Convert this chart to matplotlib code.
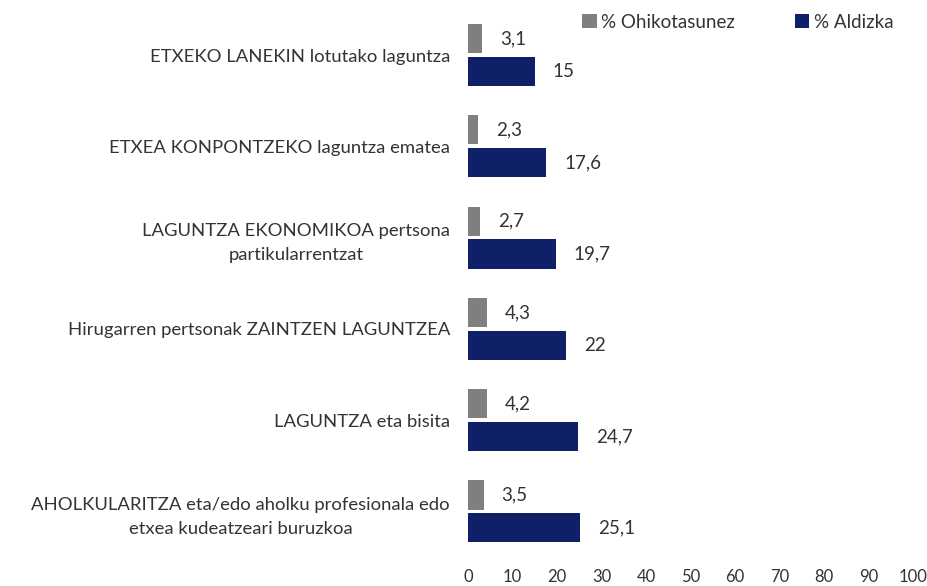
import matplotlib
matplotlib.use("Agg")
import matplotlib.pyplot as plt
import numpy as np

categories = [
    "ETXEKO LANEKIN lotutako laguntza",
    "ETXEA KONPONTZEKO laguntza ematea",
    "LAGUNTZA EKONOMIKOA pertsona\npartikularrentzat",
    "Hirugarren pertsonak ZAINTZEN LAGUNTZEA",
    "LAGUNTZA eta bisita",
    "AHOLKULARITZA eta/edo aholku profesionala edo\netxea kudeatzeari buruzkoa",
]
ohikotasunez = [3.1, 2.3, 2.7, 4.3, 4.2, 3.5]
aldizka = [15, 17.6, 19.7, 22, 24.7, 25.1]
value_labels_o = ["3,1", "2,3", "2,7", "4,3", "4,2", "3,5"]
value_labels_a = ["15", "17,6", "19,7", "22", "24,7", "25,1"]
xticks = list(range(0, 101, 10))

plt.rcParams['font.family'] = ['Lato', 'DejaVu Sans']

fig = plt.figure(figsize=(9.28, 5.86), dpi=100)
ax = fig.add_axes([468/928, 1 - 557/586, (913-468)/928, (557-9.4)/586])

gray = "#7f7f7f"
navy = "#0f1f68"
y = np.arange(len(categories))
h = 0.32
off = 0.18
ax.barh(y - off, ohikotasunez, height=h, color=gray, label="% Ohikotasunez")
ax.barh(y + off, aldizka, height=h, color=navy, label="% Aldizka")

for yi, v, s in zip(y, ohikotasunez, value_labels_o):
    ax.annotate(s, (v, yi - off), xytext=(13, 0), textcoords="offset points",
                va="center", ha="left", fontsize=13.5, color="#333333")
for yi, v, s in zip(y, aldizka, value_labels_a):
    ax.annotate(s, (v, yi + off), xytext=(13, 0), textcoords="offset points",
                va="center", ha="left", fontsize=13.5, color="#333333")

ax.set_xlim(0, 100)
ax.set_ylim(len(categories) - 0.5, -0.5)
ax.set_xticks(xticks)
ax.set_xticklabels([str(t) for t in xticks], fontsize=12, color="#333333")
ax.set_yticks(y)
ax.set_yticklabels(categories, fontsize=13.3, color="#333333")
for t in ax.get_yticklabels():
    t.set_multialignment("center")
    t.set_linespacing(1.6)
ax.tick_params(axis="both", length=0)
ax.tick_params(axis="y", pad=13)
ax.tick_params(axis="x", pad=9)
for sp in ax.spines.values():
    sp.set_visible(False)

leg = ax.legend(loc="center", bbox_to_anchor=(738/928, 1 - 22/586), bbox_transform=fig.transFigure,
                ncol=2, frameon=False, fontsize=13.5, handlelength=0.75, handleheight=0.75,
                columnspacing=3.2, handletextpad=0.25)
for t in leg.get_texts():
    t.set_color("#333333")

fig.savefig("out.png", dpi=100)
